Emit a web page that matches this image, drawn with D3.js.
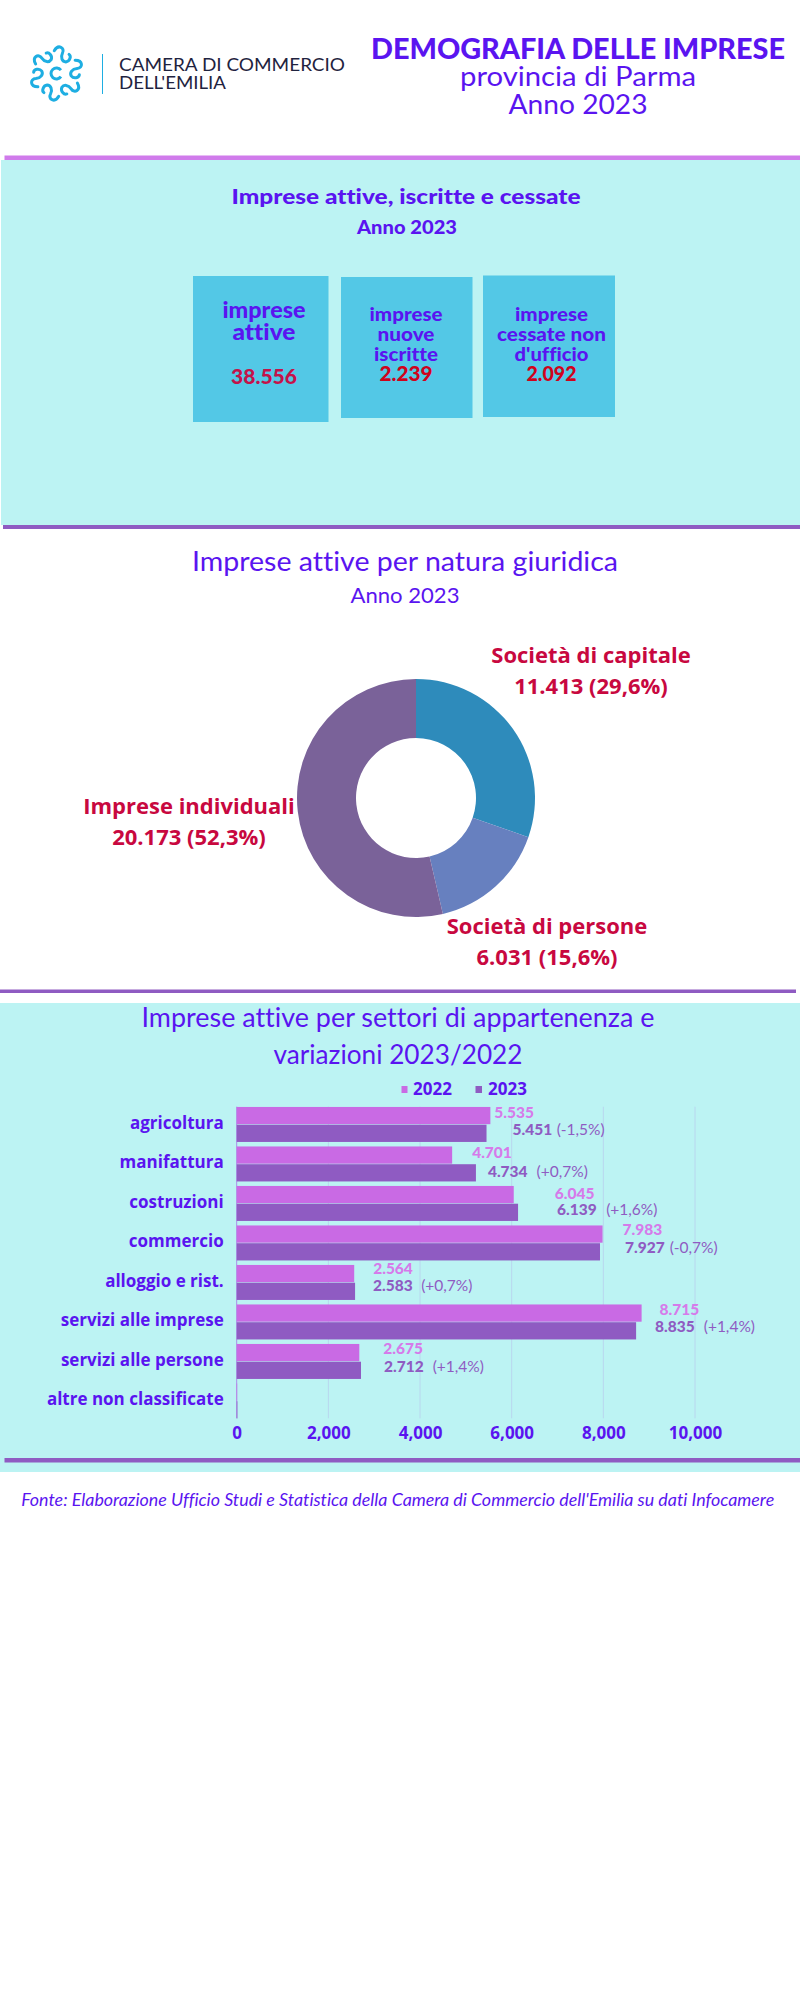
<!DOCTYPE html>
<html lang="it">
<head>
<meta charset="UTF-8">
<title>Demografia delle imprese - provincia di Parma</title>
<style>
    body { margin: 0; background: #fff; }
    svg { display: block; }
    text { font-family: Lato, sans-serif; font-variant-ligatures: none; }
    .os text, text.os { font-family: "Open Sans", sans-serif; font-weight: 700; }
</style>
</head>
<body>
<svg id="chart" width="800" height="2000"></svg>
<script src="https://d3js.org/d3.v7.min.js"></script>
<script>
    // dati
    const kpiLabels = [["imprese", "attive"], ["imprese", "nuove", "iscritte"], ["imprese", "cessate non", "d'ufficio"]];
    const kpiValues = ["38.556", "2.239", "2.092"];

    const pieNames = ["Società di capitale", "Società di persone", "Imprese individuali"];
    const pieValues = [11413, 6031, 20173];
    const pieLabels = ["11.413 (29,6%)", "6.031 (15,6%)", "20.173 (52,3%)"];
    const pieColors = ["#2e8bbb", "#6780bf", "#7a6299"];

    const sectors = ["agricoltura", "manifattura", "costruzioni", "commercio", "alloggio e rist.", "servizi alle imprese", "servizi alle persone", "altre non classificate"];
    const bars2022 = [5535, 4701, 6045, 7983, 2564, 8835, 2675, 10];
    const bars2023 = [5451, 5220, 6139, 7927, 2583, 8715, 2712, 15];
    const labels2022 = ["5.535", "4.701", "6.045", "7.983", "2.564", "8.715", "2.675"];
    const labels2023 = ["5.451", "4.734", "6.139", "7.927", "2.583", "8.835", "2.712"];
    const variations = ["(-1,5%)", "(+0,7%)", "(+1,6%)", "(-0,7%)", "(+0,7%)", "(+1,4%)", "(+1,4%)"];
    const xTicks = [0, 2000, 4000, 6000, 8000, 10000];

    // scostamenti delle etichette dalla fine della barra (px)
    const dx2022 = [4, 20, 41, 20, 19, 18, 24];
    const dx2023 = [26, 12, 39, 25, 18, 19, 23];
    const dy2022 = [11, 12, 13, 10, 9, 11, 10];
    const dy2023 = [10, 13, 11, 10, 8, 10, 10];
    const varGap = [4.5, 9, 9.5, 5, 8.5, 9, 9];

    const VIOLET = "#5a14f0", RED = "#c8083f", PINK = "#c96ae4", PURPLE = "#8f5bc2";
    const svg = d3.select("#chart");

    function put(g, x, y, str, size, weight, fill, width, anchor) {
        const t = g.append("text").attr("x", x).attr("y", y)
            .attr("font-size", size).attr("font-weight", weight)
            .attr("fill", fill).attr("text-anchor", anchor || "middle").text(str);
        if (width) t.attr("textLength", width).attr("lengthAdjust", "spacingAndGlyphs");
        return t;
    }
    function rect(x, y, w, h, fill) {
        return svg.append("rect").attr("x", x).attr("y", y).attr("width", w).attr("height", h).attr("fill", fill);
    }

    // sfondi e filetti
    rect(1, 160, 799, 365, "#bcf3f3");
    rect(0, 1003, 800, 469, "#bcf3f3");
    rect(4.5, 155.5, 795.5, 4.5, "#d07beb");
    rect(3, 525, 797, 4, PURPLE);
    rect(0, 989.5, 796, 3.5, PURPLE);
    rect(4.5, 1458, 795.5, 4.5, PURPLE);

    // logo
    const logo = svg.append("g").attr("transform", "translate(56.5,73.5)")
        .attr("fill", "none").attr("stroke", "#1eaee2").attr("stroke-width", 3).attr("stroke-linecap", "round");
    d3.range(6).forEach(i => {
        logo.append("path")
            .attr("transform", `rotate(${i * 60 + 17}) translate(0,-19) rotate(20)`)
            .attr("d", "M-9,1 C-10,-7 -2,-8 -1,-2 C0,3 4,5 7,3 C10,0 8,-5 5,-5");
    });
    logo.append("path").attr("d", d3.arc()({ innerRadius: 5.5, outerRadius: 5.5, startAngle: 2.2, endAngle: 7.2 }));
    rect(102, 54, 1, 40, "#1eaee2");
    put(svg, 119, 71, "CAMERA DI COMMERCIO", 16.5, 400, "#1f2340", 226, "start");
    put(svg, 119, 89, "DELL'EMILIA", 16.5, 400, "#1f2340", 107, "start");

    // testata
    put(svg, 578, 58.5, "DEMOGRAFIA DELLE IMPRESE", 28, 900, VIOLET, 414);
    put(svg, 578, 86, "provincia di Parma", 27, 400, VIOLET, 236);
    put(svg, 578, 114, "Anno 2023", 27, 400, VIOLET, 139);

    // riquadri
    put(svg, 406, 204, "Imprese attive, iscritte e cessate", 21, 900, VIOLET, 349);
    put(svg, 407, 234, "Anno 2023", 19, 900, VIOLET, 100);
    const boxes = [[193, 276, 135.5, 146], [341, 277, 131.5, 141], [483, 275.5, 132, 141.5]];
    boxes.forEach(b => rect(b[0], b[1], b[2], b[3], "#53c8e6"));
    const kpiCx = [264, 406, 551.5];
    const kpiLines = [[317.5, 340], [321, 341, 361], [321, 341, 361]];
    const kpiWidths = [[83, 63], [73, 57, 64], [73, 109, 74]];
    const kpiValueY = [384.3, 380.5, 381];
    const kpiValueW = [66, 53, 50];
    const kpiColors = ["#c4124a", "#d0021b", "#d0021b"];
    kpiLabels.forEach((lines, i) => {
        lines.forEach((s, j) => put(svg, kpiCx[i], kpiLines[i][j], s, i ? 19.5 : 23, 900, VIOLET, kpiWidths[i][j]));
        put(svg, kpiCx[i], kpiValueY[i], kpiValues[i], 21, 900, kpiColors[i], kpiValueW[i]);
    });

    // ciambella
    put(svg, 405, 571, "Imprese attive per natura giuridica", 27, 400, VIOLET, 426);
    put(svg, 405, 603, "Anno 2023", 21, 400, VIOLET, 109);
    const pie = d3.pie().sort(null)(pieValues);
    const arc = d3.arc().innerRadius(60).outerRadius(119);
    const donut = svg.append("g").attr("transform", "translate(416,798)");
    donut.selectAll("path").data(pie).join("path")
        .attr("d", arc).attr("fill", (d, i) => pieColors[i]);

    const pieLabelX = [591, 547, 189];
    const pieLabelY = [663, 934, 814];
    pieNames.forEach((n, i) => {
        put(svg, pieLabelX[i], pieLabelY[i], n, 22, 700, RED).attr("class", "os");
        put(svg, pieLabelX[i], pieLabelY[i] + 31, pieLabels[i], 22, 700, RED).attr("class", "os");
    });

    // barre
    put(svg, 398, 1026.7, "Imprese attive per settori di appartenenza e", 26, 400, VIOLET, 513);
    put(svg, 398, 1064, "variazioni 2023/2022", 26, 400, VIOLET, 249);

    const x = d3.scaleLinear().domain([0, 10000]).range([236.7, 695]);
    const y = d3.scaleBand().domain(sectors).range([1104.7, 1420.7]).paddingInner(0.114).paddingOuter(0.057);
    const yInner = d3.scaleBand().domain(["2022", "2023"]).range([0, y.bandwidth()]).paddingInner(0.03);

    // griglia
    svg.append("g").selectAll("line").data(xTicks).join("line")
        .attr("x1", d => x(d)).attr("x2", d => x(d))
        .attr("y1", 1106.7).attr("y2", 1418.3)
        .attr("stroke", d => d === 0 ? "#a98ee8" : "#b8d6ee").attr("stroke-width", 1);

    const series = [["2022", bars2022, PINK], ["2023", bars2023, PURPLE]];
    series.forEach(([yr, vals, col]) => {
        svg.append("g").selectAll("rect").data(vals).join("rect")
            .attr("x", x(0))
            .attr("y", (d, i) => y(sectors[i]) + yInner(yr))
            .attr("width", d => x(d) - x(0))
            .attr("height", yInner.bandwidth())
            .attr("fill", col);
    });

    const axisY = svg.append("g").attr("class", "os").attr("transform", `translate(${x(0)},-1)`)
        .call(d3.axisLeft(y).tickSize(0).tickPadding(13));
    axisY.select(".domain").remove();
    axisY.selectAll("text").attr("font-size", 17).attr("fill", VIOLET);

    const axisX = svg.append("g").attr("class", "os").attr("transform", "translate(0,1418)")
        .call(d3.axisBottom(x).tickValues(xTicks).tickFormat(d3.format(",")).tickSize(0).tickPadding(9));
    axisX.select(".domain").remove();
    axisX.selectAll("text").attr("font-size", 17).attr("fill", VIOLET);

    labels2022.forEach((s, i) => {
        put(svg, x(bars2022[i]) + dx2022[i], y(sectors[i]) + dy2022[i], s, 15.5, 900, "#d67aea", null, "start");
        const t = put(svg, x(bars2023[i]) + dx2023[i], y(sectors[i]) + yInner("2023") + dy2023[i], labels2023[i], 15.5, 900, PURPLE, null, "start");
        t.append("tspan").attr("dx", varGap[i]).attr("font-weight", 400).text(variations[i]);
    });

    // legenda
    rect(401.5, 1086, 6, 7, PINK);
    put(svg, 413, 1095, "2022", 17, 700, VIOLET, null, "start").attr("class", "os");
    rect(475.5, 1086, 6.5, 7, PURPLE);
    put(svg, 488, 1095, "2023", 17, 700, VIOLET, null, "start").attr("class", "os");

    // fonte
    put(svg, 397.7, 1506, "Fonte: Elaborazione Ufficio Studi e Statistica della Camera di Commercio dell'Emilia su dati Infocamere", 17, 400, VIOLET, 753)
        .attr("font-style", "italic");
</script>
</body>
</html>
